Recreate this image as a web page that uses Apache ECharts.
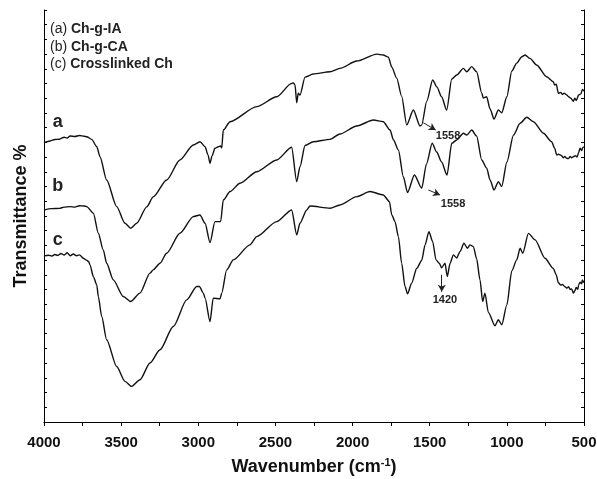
<!DOCTYPE html>
<html><head><meta charset="utf-8">
<script src="https://cdn.jsdelivr.net/npm/echarts@6/dist/echarts.min.js"></script>
<style>html,body{margin:0;padding:0;background:#fff}#c{width:597px;height:479px}</style>
</head><body><div id="c"></div><script>
// Wavenumber (cm-1), relative transmittance (arbitrary units, 0-28)
const curveA = [[4000,18.98],[3960,19.1],[3930,19.2],[3900,19.22],[3870,19.35],[3850,19.3],[3831,19.44],[3800,19.4],[3770,19.47],[3740,19.42],[3723,19.39],[3691,19.21],[3658,18.71],[3637,18.03],[3594,16.45],[3529,14.64],[3475,13.51],[3438,13.17],[3399,13.51],[3334,14.62],[3292,15.30],[3205,16.45],[3119,17.81],[3032,18.83],[2989,19.05],[2956,18.71],[2937,18.15],[2924,17.58],[2911,18.08],[2892,18.60],[2870,18.71],[2855,18.76],[2848,18.62],[2838,19.84],[2794,20.41],[2621,21.43],[2492,22.10],[2395,23.01],[2384,23.05],[2373,22.90],[2362,21.70],[2352,22.34],[2341,22.22],[2308,23.44],[2255,23.65],[2146,23.80],[2082,24.03],[1973,24.53],[1843,25.00],[1801,24.94],[1768,24.80],[1746,24.12],[1714,23.37],[1682,22.15],[1649,20.19],[1606,21.20],[1563,20.12],[1552,20.19],[1519,21.81],[1481,23.24],[1453,22.76],[1423,22.10],[1390,21.20],[1357,23.31],[1325,23.58],[1282,24.03],[1260,23.80],[1228,24.15],[1196,23.80],[1163,22.36],[1153,22.02],[1131,22.10],[1109,21.27],[1083,20.59],[1055,21.20],[1033,21.02],[1000,22.10],[968,23.85],[936,24.39],[903,24.82],[882,24.94],[850,24.71],[807,24.26],[742,23.46],[699,23.12],[690,22.9],[680,22.95],[666,22.34],[650,22.4],[640,22.25],[630,22.35],[612,22.22],[600,22.1],[585,22.0],[569,21.8],[560,22.0],[550,21.85],[535,22.22],[520,22.3],[510,22.6],[500,22.49]];
const curveB = [[4000,14.41],[3950,14.5],[3900,14.52],[3870,14.6],[3831,14.64],[3800,14.6],[3770,14.7],[3740,14.68],[3723,14.64],[3680,14.19],[3648,12.83],[3616,11.70],[3594,10.79],[3551,9.66],[3486,8.53],[3438,8.19],[3378,8.76],[3313,10.12],[3292,10.34],[3248,10.79],[3205,11.47],[3119,12.83],[3032,13.96],[2989,14.07],[2956,13.51],[2924,12.19],[2892,13.62],[2855,13.62],[2838,15.09],[2794,15.66],[2730,16.23],[2621,17.01],[2492,17.81],[2395,18.67],[2362,16.33],[2341,17.35],[2308,18.79],[2255,19.05],[2146,19.21],[2082,19.57],[1973,20.12],[1865,20.52],[1801,20.41],[1757,19.84],[1735,19.17],[1703,18.49],[1671,16.67],[1644,15.60],[1599,16.79],[1552,15.89],[1521,17.54],[1484,18.94],[1455,18.35],[1423,17.67],[1388,16.79],[1357,18.94],[1325,19.17],[1282,19.62],[1260,19.50],[1228,19.84],[1196,19.44],[1163,17.81],[1131,17.26],[1109,16.45],[1083,15.77],[1055,16.33],[1033,16.01],[1000,17.67],[957,19.50],[914,20.30],[871,20.71],[828,20.41],[763,19.62],[710,19.05],[690,18.6],[677,18.15],[666,18.2],[653,18.15],[645,18.1],[635,17.95],[625,18.05],[612,17.92],[600,17.9],[590,18.05],[580,17.95],[569,18.03],[555,18.1],[545,18.0],[535,18.3],[526,18.6],[515,18.45],[508,18.65],[500,18.71]];
const curveC = [[4000,11.29],[3970,11.33],[3950,11.28],[3930,11.38],[3910,11.32],[3890,11.45],[3870,11.35],[3850,11.5],[3830,11.3],[3810,11.42],[3790,11.3],[3770,11.36],[3745,11.13],[3725,11.0],[3710,10.9],[3702,10.68],[3680,9.88],[3658,9.32],[3648,8.53],[3626,7.17],[3594,5.59],[3529,3.77],[3475,2.76],[3432,2.42],[3378,2.87],[3313,4.01],[3248,4.91],[3162,6.49],[3075,8.30],[3010,9.21],[2993,9.21],[2967,8.76],[2956,8.42],[2924,6.83],[2903,8.42],[2859,8.37],[2848,8.76],[2816,10.34],[2773,11.02],[2665,12.04],[2621,12.60],[2492,13.62],[2395,14.41],[2362,12.72],[2341,13.51],[2297,14.41],[2276,14.68],[2146,14.53],[2082,14.75],[1973,15.32],[1887,15.66],[1801,15.43],[1761,14.98],[1746,14.07],[1725,13.62],[1703,12.60],[1682,10.79],[1660,9.21],[1644,8.71],[1617,9.44],[1584,10.45],[1552,10.98],[1530,12.04],[1505,12.94],[1481,12.26],[1459,11.02],[1438,10.79],[1423,10.48],[1401,10.79],[1386,9.88],[1368,10.79],[1347,11.36],[1325,11.15],[1304,11.58],[1278,12.15],[1256,11.81],[1239,12.04],[1217,11.92],[1196,11.09],[1174,9.66],[1157,8.19],[1142,8.76],[1120,7.45],[1077,6.54],[1055,6.95],[1033,6.61],[1000,7.96],[968,10.27],[936,11.02],[914,11.81],[897,11.47],[860,12.82],[817,12.38],[753,11.13],[699,10.44],[680,10.0],[666,9.46],[650,9.3],[640,9.35],[623,9.19],[610,9.1],[600,9.2],[590,9.0],[580,9.05],[569,8.76],[560,8.9],[550,9.15],[540,9.0],[535,9.32],[525,9.5],[515,9.4],[511,9.66],[505,9.5],[500,9.59]];
const xTicks = [4000, 3500, 3000, 2500, 2000, 1500, 1000, 500];
const legendItems = [['(a) ', 'Ch-g-IA'], ['(b) ', 'Ch-g-CA'], ['(c) ', 'Crosslinked Ch']];
const curveLabels = ['a', 'b', 'c'];
// annotation arrows [from, to] and label positions in data coordinates
const arrowsA = [[[1542,20.34],[1461,19.84]]];
const arrowsB = [[[1509,15.77],[1433,15.43]]];
const arrowsC = [[[1422,10.0],[1422,8.85]]];
const notesA = [[1381,19.44,'1558']];
const notesB = [[1349,14.82,'1558']];
const notesC = [[1401,8.31,'1420']];

const FF = "'Liberation Sans', Arial, sans-serif";
const chart = echarts.init(document.getElementById('c'), null, {renderer: 'canvas'});

function mkSeries(data, arrows, notes) {
  return {
    type: 'line', data: data, showSymbol: false, symbol: 'none',
    smooth: 0.25, smoothMonotone: 'x',
    lineStyle: {color: '#111', width: 1.4}, itemStyle: {color: '#111'},
    markLine: {
      silent: true, symbol: ['none', 'arrow'], symbolSize: [6, 7], animation: false,
      lineStyle: {color: '#222', width: 1, type: 'solid'}, label: {show: false},
      emphasis: {disabled: true},
      data: arrows.map(p => [{coord: p[0]}, {coord: p[1]}])
    },
    markPoint: {
      silent: true, symbol: 'circle', symbolSize: 0, animation: false,
      label: {show: true, position: 'inside', color: '#222', fontFamily: FF, fontWeight: 'bold', fontSize: 11, formatter: p => p.data.name},
      data: notes.map(n => ({coord: [n[0], n[1]], name: n[2]}))
    }
  };
}

const axisLine = {show: true, lineStyle: {color: '#000', width: 1}};
const option = {
  animation: false,
  backgroundColor: '#fff',
  grid: {left: 44, right: 13, top: 10, bottom: 57, containLabel: false, outerBoundsMode: 'none'},
  xAxis: [{
    type: 'value', inverse: true, min: 500, max: 4000, interval: 500, position: 'bottom',
    axisLine: axisLine, axisTick: {show: true, inside: false, length: 4, lineStyle: {color: '#000'}},
    minorTick: {show: true, splitNumber: 2, length: 4, lineStyle: {color: '#000'}},
    splitLine: {show: false},
    axisLabel: {show: true, margin: 13, color: '#111', fontFamily: FF, fontWeight: 'bold', fontSize: 15,
      formatter: v => xTicks.includes(v) ? String(v) : ''},
    name: '{t|Wavenumber (cm}{s|-1}{t|)}', nameLocation: 'middle', nameGap: 35,
    nameTextStyle: {rich: {
      t: {fontFamily: FF, fontWeight: 'bold', fontSize: 18, color: '#111'},
      s: {fontFamily: FF, fontWeight: 'bold', fontSize: 11, color: '#111', padding: [0, 0, 9, 0]}
    }}
  }, {
    type: 'value', inverse: true, min: 500, max: 4000, interval: 500, position: 'top',
    axisLine: axisLine, axisTick: {show: true, inside: true, length: 4, lineStyle: {color: '#000'}},
    minorTick: {show: true, splitNumber: 2, length: 4, lineStyle: {color: '#000'}},
    splitLine: {show: false}, axisLabel: {show: false}
  }],
  yAxis: [{
    type: 'value', min: 0, max: 28, interval: 1, position: 'left',
    axisLine: axisLine, axisTick: {show: true, inside: true, length: 3, lineStyle: {color: '#000'}},
    splitLine: {show: false}, axisLabel: {show: false},
    name: 'Transmittance %', nameLocation: 'middle', nameGap: 14, nameRotate: 90,
    nameTextStyle: {fontFamily: FF, fontWeight: 'bold', fontSize: 18, color: '#111'}
  }, {
    type: 'value', min: 0, max: 28, interval: 1, position: 'right',
    axisLine: axisLine, axisTick: {show: true, inside: true, length: 3, lineStyle: {color: '#000'}},
    splitLine: {show: false}, axisLabel: {show: false}
  }],
  series: [
    mkSeries(curveA, arrowsA, notesA),
    mkSeries(curveB, arrowsB, notesB),
    mkSeries(curveC, arrowsC, notesC)
  ],
  graphic: [
    ...legendItems.map((it, i) => ({
      type: 'text', left: 50, top: 22 + i * 17.7, silent: true,
      style: {text: '{r|' + it[0] + '}{b|' + it[1] + '}', rich: {
        r: {fontFamily: FF, fontSize: 14, fill: '#222'},
        b: {fontFamily: FF, fontSize: 14, fontWeight: 'bold', fill: '#222'}
      }}
    })),
    ...curveLabels.map((t, i) => ({
      type: 'text', x: 57.7, y: [122, 186.5, 240.5][i], silent: true,
      style: {text: t, fontFamily: FF, fontWeight: 'bold', fontSize: 18, fill: '#222', align: 'center', verticalAlign: 'middle'}
    }))
  ]
};
chart.setOption(option);
</script></body></html>
